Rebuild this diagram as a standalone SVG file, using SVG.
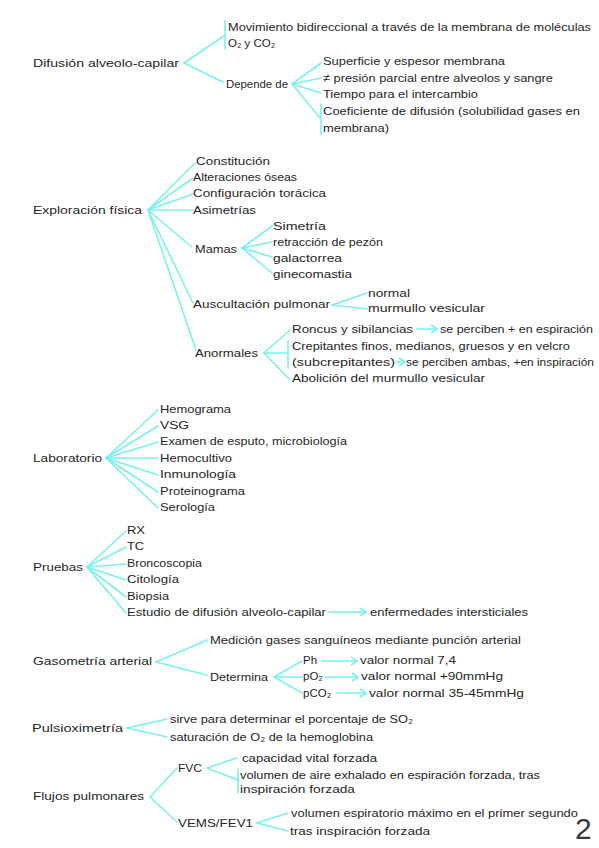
<svg xmlns="http://www.w3.org/2000/svg" width="599" height="848" viewBox="0 0 599 848">
<style>
text{font-family:"Liberation Sans",Arial,sans-serif;font-size:11.5px;fill:#262626}
.c line,.c path{stroke:#78f2f2;stroke-width:1.6;fill:none;stroke-linecap:round}
.pg{font-size:30px;font-weight:300;fill:#3a3a3a}
</style>
<defs>
<marker id="ah" markerWidth="10" markerHeight="10" refX="8" refY="5" orient="auto" markerUnits="userSpaceOnUse">
<path d="M2,1 L8,5 L2,9" stroke="#78f2f2" stroke-width="1.6" fill="none"/>
</marker>
</defs>
<rect width="599" height="848" fill="#fff"/>
<g class="c" id="connectors">
<!-- Difusion -->
<line x1="184" y1="63" x2="224" y2="36"/><line x1="225" y1="21" x2="225" y2="49"/>
<line x1="184" y1="63" x2="223" y2="82"/>
<line x1="292" y1="84" x2="321" y2="63"/><line x1="292" y1="84" x2="321" y2="78"/>
<line x1="292" y1="84" x2="321" y2="93"/><line x1="292" y1="84" x2="321" y2="119"/>
<line x1="321" y1="104" x2="321" y2="134"/>
<!-- Exploracion -->
<line x1="148" y1="210" x2="195" y2="163"/><line x1="148" y1="210" x2="193" y2="178"/>
<line x1="148" y1="210" x2="193" y2="194"/><line x1="148" y1="210" x2="193" y2="210"/>
<line x1="148" y1="210" x2="192" y2="247"/><line x1="148" y1="210" x2="193" y2="303"/>
<line x1="148" y1="210" x2="196" y2="350"/>
<line x1="242" y1="248" x2="272" y2="226"/><line x1="242" y1="248" x2="272" y2="242"/>
<line x1="242" y1="248" x2="272" y2="257"/><line x1="242" y1="248" x2="272" y2="273"/>
<line x1="332" y1="305" x2="367" y2="293"/><line x1="332" y1="305" x2="367" y2="309"/>
<line x1="264" y1="353" x2="290" y2="330"/><line x1="264" y1="353" x2="288" y2="353"/>
<line x1="264" y1="353" x2="290" y2="380"/><line x1="288" y1="341" x2="288" y2="368"/>
<line x1="417" y1="329" x2="437" y2="329" marker-end="url(#ah)"/>
<line x1="396" y1="362" x2="405" y2="362" marker-end="url(#ah)"/>
<!-- Laboratorio -->
<line x1="106" y1="458" x2="158" y2="410"/><line x1="106" y1="458" x2="158" y2="426"/>
<line x1="106" y1="458" x2="158" y2="442"/><line x1="106" y1="458" x2="158" y2="458"/>
<line x1="106" y1="458" x2="158" y2="475"/><line x1="106" y1="458" x2="158" y2="492"/>
<line x1="106" y1="458" x2="158" y2="508"/>
<!-- Pruebas -->
<line x1="87" y1="567" x2="126" y2="531"/><line x1="87" y1="567" x2="126" y2="547"/>
<line x1="87" y1="567" x2="126" y2="564"/><line x1="87" y1="567" x2="126" y2="580"/>
<line x1="87" y1="567" x2="126" y2="597"/><line x1="87" y1="567" x2="126" y2="613"/>
<line x1="329" y1="612" x2="366" y2="612" marker-end="url(#ah)"/>
<!-- Gasometria -->
<line x1="156" y1="662" x2="207" y2="640"/><line x1="156" y1="662" x2="207" y2="675"/>
<line x1="274" y1="677" x2="302" y2="661"/><line x1="274" y1="677" x2="302" y2="677"/>
<line x1="274" y1="677" x2="302" y2="693"/>
<line x1="322" y1="661" x2="357" y2="661" marker-end="url(#ah)"/>
<line x1="325" y1="677" x2="358" y2="677" marker-end="url(#ah)"/>
<line x1="337" y1="693" x2="366" y2="693" marker-end="url(#ah)"/>
<!-- Pulsioximetria -->
<line x1="127" y1="728" x2="167" y2="719"/><line x1="127" y1="728" x2="167" y2="737"/>
<!-- Flujos -->
<line x1="150" y1="797" x2="177" y2="768"/><line x1="150" y1="797" x2="177" y2="822"/>
<line x1="207" y1="768" x2="237" y2="758"/><line x1="207" y1="768" x2="238" y2="780"/>
<line x1="238" y1="769" x2="238" y2="793"/>
<line x1="257" y1="823" x2="288" y2="813"/><line x1="257" y1="823" x2="288" y2="831"/>
</g>
<g id="difusion">
<text x="33" y="67" textLength="146" lengthAdjust="spacingAndGlyphs">Difusión alveolo-capilar</text>
<text x="228" y="31" textLength="363" lengthAdjust="spacingAndGlyphs">Movimiento bidireccional a través de la membrana de moléculas</text>
<text x="228" y="47">O₂ y CO₂</text>
<text x="226" y="88" textLength="62" lengthAdjust="spacingAndGlyphs">Depende de</text>
<text x="323" y="65" textLength="182" lengthAdjust="spacingAndGlyphs">Superficie y espesor membrana</text>
<text x="323" y="82" textLength="230" lengthAdjust="spacingAndGlyphs">≠ presión parcial entre alveolos y sangre</text>
<text x="323" y="98" textLength="155" lengthAdjust="spacingAndGlyphs">Tiempo para el intercambio</text>
<text x="323" y="115" textLength="257" lengthAdjust="spacingAndGlyphs">Coeficiente de difusión (solubilidad gases en</text>
<text x="323" y="132" textLength="66" lengthAdjust="spacingAndGlyphs">membrana)</text>
</g>
<g id="exploracion">
<text x="33" y="214" textLength="109" lengthAdjust="spacingAndGlyphs">Exploración física</text>
<text x="196" y="165" textLength="74" lengthAdjust="spacingAndGlyphs">Constitución</text>
<text x="193" y="181" textLength="104" lengthAdjust="spacingAndGlyphs">Alteraciones óseas</text>
<text x="193" y="197" textLength="133" lengthAdjust="spacingAndGlyphs">Configuración torácica</text>
<text x="193" y="214" textLength="63" lengthAdjust="spacingAndGlyphs">Asimetrías</text>
<text x="195" y="253" textLength="42" lengthAdjust="spacingAndGlyphs">Mamas</text>
<text x="273" y="230" textLength="53" lengthAdjust="spacingAndGlyphs">Simetría</text>
<text x="273" y="246" textLength="110" lengthAdjust="spacingAndGlyphs">retracción de pezón</text>
<text x="273" y="262" textLength="69" lengthAdjust="spacingAndGlyphs">galactorrea</text>
<text x="273" y="278" textLength="79" lengthAdjust="spacingAndGlyphs">ginecomastia</text>
<text x="193" y="308" textLength="137" lengthAdjust="spacingAndGlyphs">Auscultación pulmonar</text>
<text x="368" y="297" textLength="42" lengthAdjust="spacingAndGlyphs">normal</text>
<text x="368" y="312" textLength="117" lengthAdjust="spacingAndGlyphs">murmullo vesicular</text>
<text x="195" y="357" textLength="63" lengthAdjust="spacingAndGlyphs">Anormales</text>
<text x="292" y="333" textLength="121" lengthAdjust="spacingAndGlyphs">Roncus y sibilancias</text>
<text x="440" y="333" textLength="153" lengthAdjust="spacingAndGlyphs">se perciben + en espiración</text>
<text x="292" y="350" textLength="278" lengthAdjust="spacingAndGlyphs">Crepitantes finos, medianos, gruesos y en velcro</text>
<text x="292" y="366" textLength="103" lengthAdjust="spacingAndGlyphs">(subcrepitantes)</text>
<text x="406" y="366" textLength="188" lengthAdjust="spacingAndGlyphs">se perciben ambas, +en inspiración</text>
<text x="292" y="382" textLength="193" lengthAdjust="spacingAndGlyphs">Abolición del murmullo vesicular</text>
</g>
<g id="laboratorio">
<text x="33" y="462" textLength="69" lengthAdjust="spacingAndGlyphs">Laboratorio</text>
<text x="160" y="413" textLength="71" lengthAdjust="spacingAndGlyphs">Hemograma</text>
<text x="160" y="429" textLength="29" lengthAdjust="spacingAndGlyphs">VSG</text>
<text x="160" y="445" textLength="187" lengthAdjust="spacingAndGlyphs">Examen de esputo, microbiología</text>
<text x="160" y="462" textLength="72" lengthAdjust="spacingAndGlyphs">Hemocultivo</text>
<text x="160" y="478" textLength="76" lengthAdjust="spacingAndGlyphs">Inmunología</text>
<text x="160" y="495" textLength="85" lengthAdjust="spacingAndGlyphs">Proteinograma</text>
<text x="160" y="511" textLength="55" lengthAdjust="spacingAndGlyphs">Serología</text>
</g>
<g id="pruebas">
<text x="33" y="571" textLength="50" lengthAdjust="spacingAndGlyphs">Pruebas</text>
<text x="127" y="534" textLength="18" lengthAdjust="spacingAndGlyphs">RX</text>
<text x="127" y="550" textLength="17" lengthAdjust="spacingAndGlyphs">TC</text>
<text x="127" y="567" textLength="75" lengthAdjust="spacingAndGlyphs">Broncoscopia</text>
<text x="127" y="583" textLength="52" lengthAdjust="spacingAndGlyphs">Citología</text>
<text x="127" y="600" textLength="42" lengthAdjust="spacingAndGlyphs">Biopsia</text>
<text x="127" y="616" textLength="199" lengthAdjust="spacingAndGlyphs">Estudio de difusión alveolo-capilar</text>
<text x="370" y="616" textLength="158" lengthAdjust="spacingAndGlyphs">enfermedades intersticiales</text>
</g>
<g id="gasometria">
<text x="33" y="665" textLength="119" lengthAdjust="spacingAndGlyphs">Gasometría arterial</text>
<text x="210" y="644" textLength="311" lengthAdjust="spacingAndGlyphs">Medición gases sanguíneos mediante punción arterial</text>
<text x="210" y="681" textLength="58" lengthAdjust="spacingAndGlyphs">Determina</text>
<text x="303" y="664">Ph</text>
<text x="303" y="680">pO₂</text>
<text x="303" y="697">pCO₂</text>
<text x="360" y="664" textLength="96" lengthAdjust="spacingAndGlyphs">valor normal 7,4</text>
<text x="361" y="680" textLength="142" lengthAdjust="spacingAndGlyphs">valor normal +90mmHg</text>
<text x="369" y="697" textLength="155" lengthAdjust="spacingAndGlyphs">valor normal 35-45mmHg</text>
</g>
<g id="pulsioximetria">
<text x="32" y="732" textLength="91" lengthAdjust="spacingAndGlyphs">Pulsioximetría</text>
<text x="170" y="723" textLength="243" lengthAdjust="spacingAndGlyphs">sirve para determinar el porcentaje de SO₂</text>
<text x="170" y="741" textLength="203" lengthAdjust="spacingAndGlyphs">saturación de O₂ de la hemoglobina</text>
</g>
<g id="flujos">
<text x="33" y="800" textLength="111" lengthAdjust="spacingAndGlyphs">Flujos pulmonares</text>
<text x="178" y="772" textLength="24" lengthAdjust="spacingAndGlyphs">FVC</text>
<text x="242" y="762" textLength="135" lengthAdjust="spacingAndGlyphs">capacidad vital forzada</text>
<text x="240" y="779" textLength="300" lengthAdjust="spacingAndGlyphs">volumen de aire exhalado en espiración forzada, tras</text>
<text x="240" y="793" textLength="115" lengthAdjust="spacingAndGlyphs">inspiración forzada</text>
<text x="178" y="827" textLength="75" lengthAdjust="spacingAndGlyphs">VEMS/FEV1</text>
<text x="291" y="817" textLength="287" lengthAdjust="spacingAndGlyphs">volumen espiratorio máximo en el primer segundo</text>
<text x="290" y="835" textLength="140" lengthAdjust="spacingAndGlyphs">tras inspiración forzada</text>
</g>
<g id="page-number">
<text class="pg" x="575" y="839">2</text>
</g>
</svg>
